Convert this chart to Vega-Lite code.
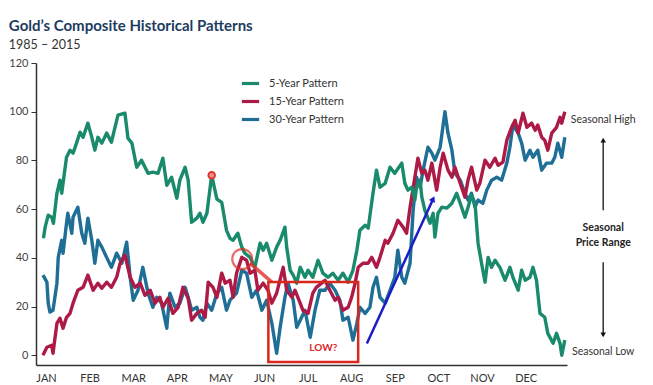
{
  "$schema": "https://vega.github.io/schema/vega-lite/v6.json",
  "width": 531,
  "height": 302,
  "autosize": "none",
  "padding": {"left": 36, "top": 63, "right": 86, "bottom": 20},
  "background": "white",
  "config": {
    "view": {"stroke": null},
    "font": "Lato",
    "legend": {"orient": "none", "legendX": 204, "legendY": 10, "padding": 0, "symbolType": "stroke", "symbolSize": 300, "symbolStrokeWidth": 3.2, "labelFontSize": 11, "labelColor": "#333", "labelFont": "Lato", "labelOffset": 8, "rowPadding": 1, "title": null}
  },
  "title": {
    "text": "Gold’s Composite Historical Patterns",
    "subtitle": "1985 – 2015",
    "anchor": "start",
    "frame": "bounds",
    "offset": 6,
    "font": "Lato",
    "fontSize": 15,
    "fontWeight": "bold",
    "color": "#1d3c5f",
    "subtitleFont": "Lato",
    "subtitleFontSize": 12.5,
    "subtitleColor": "#333",
    "subtitlePadding": 5
  },
  "encoding": {
    "x": {"field": "m", "type": "quantitative", "scale": {"domain": [-0.23, 11.95], "nice": false, "zero": false},
      "axis": {"title": null, "values": [0,1,2,3,4,5,6,7,8,9,10,11], "labelExpr": "['JAN','FEB','MAR','APR','MAY','JUN','JUL','AUG','SEP','OCT','NOV','DEC'][datum.value]", "ticks": false, "grid": false, "domainColor": "#333", "domainWidth": 1.5, "labelFontSize": 11, "labelColor": "#333", "labelPadding": 7, "labelFont": "Lato"}},
    "y": {"field": "v", "type": "quantitative", "scale": {"domain": [-4, 120], "nice": false, "zero": false},
      "axis": {"title": null, "values": [0,20,40,60,80,100,120], "grid": false, "domainColor": "#333", "domainWidth": 1.5, "tickColor": "#333", "tickSize": 5, "labelFontSize": 11, "labelColor": "#444", "labelPadding": 3, "labelFont": "Lato"}}
  },
  "layer": [
    {
      "data": {"values": [
        {"m":-0.07,"v":32.9},{"m":0.02,"v":30.0},{"m":0.05,"v":21.4},{"m":0.09,"v":17.7},{"m":0.16,"v":18.5},{"m":0.25,"v":29.6},{"m":0.28,"v":40.2},{"m":0.36,"v":47.2},{"m":0.39,"v":41.9},{"m":0.47,"v":54.2},{"m":0.50,"v":58.3},{"m":0.59,"v":50.1},{"m":0.62,"v":56.7},{"m":0.73,"v":60.8},{"m":0.82,"v":50.1},{"m":0.89,"v":46.0},{"m":0.96,"v":56.3},{"m":1.05,"v":47.2},{"m":1.12,"v":37.8},{"m":1.19,"v":47.2},{"m":1.28,"v":44.4},{"m":1.39,"v":40.2},{"m":1.50,"v":36.1},{"m":1.62,"v":41.9},{"m":1.74,"v":37.8},{"m":1.85,"v":46.4},{"m":1.93,"v":32.0},{"m":2.00,"v":22.6},{"m":2.11,"v":26.7},{"m":2.22,"v":36.1},{"m":2.34,"v":25.5},{"m":2.45,"v":19.7},{"m":2.54,"v":23.8},{"m":2.65,"v":21.4},{"m":2.77,"v":11.1},{"m":2.84,"v":25.5},{"m":2.96,"v":19.7},{"m":3.07,"v":21.4},{"m":3.19,"v":27.9},{"m":3.26,"v":23.8},{"m":3.34,"v":18.5},{"m":3.46,"v":19.7},{"m":3.53,"v":15.6},{"m":3.60,"v":14.4},{"m":3.69,"v":21.4},{"m":3.80,"v":18.5},{"m":3.92,"v":25.5},{"m":4.03,"v":27.9},{"m":4.14,"v":18.5},{"m":4.22,"v":22.6},{"m":4.37,"v":25.5},{"m":4.49,"v":34.9},{"m":4.60,"v":33.7},{"m":4.72,"v":23.8},{"m":4.83,"v":26.7},{"m":4.95,"v":18.5},{"m":5.06,"v":22.6},{"m":5.18,"v":13.1},{"m":5.29,"v":0.8},{"m":5.37,"v":11.5},{"m":5.48,"v":23.8},{"m":5.55,"v":29.6},{"m":5.67,"v":22.6},{"m":5.75,"v":11.5},{"m":5.83,"v":14.4},{"m":5.94,"v":18.5},{"m":6.06,"v":7.4},{"m":6.17,"v":18.5},{"m":6.28,"v":26.7},{"m":6.40,"v":26.7},{"m":6.51,"v":29.6},{"m":6.63,"v":26.7},{"m":6.74,"v":22.6},{"m":6.81,"v":14.4},{"m":6.93,"v":15.6},{"m":7.04,"v":6.2},{"m":7.13,"v":13.1},{"m":7.20,"v":19.7},{"m":7.32,"v":17.2},{"m":7.43,"v":19.7},{"m":7.50,"v":27.9},{"m":7.58,"v":32.0},{"m":7.66,"v":23.8},{"m":7.78,"v":21.4},{"m":7.89,"v":26.7},{"m":8.00,"v":32.0},{"m":8.07,"v":43.1},{"m":8.16,"v":32.0},{"m":8.23,"v":29.6},{"m":8.35,"v":37.8},{"m":8.42,"v":59.5},{"m":8.50,"v":73.1},{"m":8.58,"v":69.0},{"m":8.65,"v":76.0},{"m":8.76,"v":85.4},{"m":8.85,"v":83.0},{"m":8.92,"v":80.1},{"m":9.04,"v":85.4},{"m":9.15,"v":100.0},{"m":9.22,"v":91.2},{"m":9.31,"v":84.2},{"m":9.38,"v":74.7},{"m":9.50,"v":71.9},{"m":9.61,"v":66.5},{"m":9.68,"v":63.7},{"m":9.76,"v":66.5},{"m":9.84,"v":60.8},{"m":9.91,"v":63.7},{"m":10.02,"v":62.4},{"m":10.11,"v":67.8},{"m":10.22,"v":71.9},{"m":10.34,"v":73.1},{"m":10.45,"v":71.9},{"m":10.57,"v":78.9},{"m":10.64,"v":85.4},{"m":10.71,"v":94.5},{"m":10.83,"v":91.2},{"m":10.91,"v":87.1},{"m":10.99,"v":80.1},{"m":11.10,"v":84.2},{"m":11.17,"v":81.3},{"m":11.28,"v":84.2},{"m":11.37,"v":76.0},{"m":11.48,"v":78.9},{"m":11.60,"v":78.9},{"m":11.67,"v":81.3},{"m":11.74,"v":87.1},{"m":11.83,"v":81.3},{"m":11.90,"v":89.5}
      ]},
      "mark": {"type": "line", "strokeWidth": 3.4, "strokeJoin": "round"},
      "encoding": {"color": {"datum": "30-Year Pattern", "type": "nominal",
        "scale": {"domain": ["5-Year Pattern", "15-Year Pattern", "30-Year Pattern"], "range": ["#1a8a6c", "#ad1a45", "#1f6e96"]},
        "legend": {}}}
    },
    {
      "data": {"values": [
        {"m":-0.07,"v":0.0},{"m":0.02,"v":3.3},{"m":0.13,"v":4.1},{"m":0.16,"v":0.8},{"m":0.25,"v":13.1},{"m":0.32,"v":15.2},{"m":0.39,"v":11.1},{"m":0.47,"v":15.6},{"m":0.55,"v":17.2},{"m":0.62,"v":21.4},{"m":0.73,"v":26.7},{"m":0.85,"v":27.9},{"m":0.96,"v":32.9},{"m":1.08,"v":26.7},{"m":1.19,"v":29.6},{"m":1.28,"v":27.5},{"m":1.39,"v":30.0},{"m":1.50,"v":27.9},{"m":1.62,"v":32.0},{"m":1.70,"v":37.8},{"m":1.81,"v":41.1},{"m":1.93,"v":32.0},{"m":2.04,"v":27.9},{"m":2.16,"v":29.6},{"m":2.27,"v":24.6},{"m":2.39,"v":26.7},{"m":2.50,"v":21.4},{"m":2.61,"v":23.8},{"m":2.68,"v":19.7},{"m":2.80,"v":23.4},{"m":2.91,"v":17.2},{"m":3.03,"v":19.7},{"m":3.14,"v":27.9},{"m":3.26,"v":23.4},{"m":3.34,"v":14.4},{"m":3.46,"v":17.2},{"m":3.57,"v":18.5},{"m":3.65,"v":15.6},{"m":3.72,"v":30.0},{"m":3.83,"v":27.9},{"m":3.92,"v":23.8},{"m":4.03,"v":33.7},{"m":4.11,"v":29.6},{"m":4.22,"v":30.8},{"m":4.29,"v":23.8},{"m":4.37,"v":33.7},{"m":4.49,"v":40.2},{"m":4.60,"v":39.0},{"m":4.68,"v":33.7},{"m":4.79,"v":34.9},{"m":4.86,"v":26.7},{"m":4.98,"v":29.6},{"m":5.09,"v":26.7},{"m":5.18,"v":21.4},{"m":5.29,"v":25.5},{"m":5.44,"v":36.1},{"m":5.52,"v":26.7},{"m":5.64,"v":23.8},{"m":5.71,"v":26.7},{"m":5.83,"v":21.4},{"m":5.89,"v":18.5},{"m":6.01,"v":17.2},{"m":6.12,"v":25.5},{"m":6.20,"v":27.9},{"m":6.32,"v":29.6},{"m":6.40,"v":30.8},{"m":6.51,"v":26.7},{"m":6.63,"v":22.6},{"m":6.70,"v":23.8},{"m":6.81,"v":18.5},{"m":6.93,"v":19.7},{"m":7.01,"v":23.8},{"m":7.09,"v":29.6},{"m":7.16,"v":36.1},{"m":7.27,"v":37.8},{"m":7.39,"v":37.8},{"m":7.47,"v":40.2},{"m":7.58,"v":36.1},{"m":7.66,"v":40.2},{"m":7.78,"v":47.2},{"m":7.84,"v":46.0},{"m":7.96,"v":50.1},{"m":8.07,"v":55.4},{"m":8.19,"v":52.6},{"m":8.27,"v":50.1},{"m":8.35,"v":60.8},{"m":8.46,"v":73.1},{"m":8.53,"v":80.9},{"m":8.62,"v":74.7},{"m":8.69,"v":76.0},{"m":8.76,"v":71.9},{"m":8.85,"v":78.9},{"m":8.96,"v":67.8},{"m":9.04,"v":77.2},{"m":9.11,"v":83.0},{"m":9.22,"v":76.0},{"m":9.31,"v":73.1},{"m":9.38,"v":77.2},{"m":9.50,"v":70.6},{"m":9.61,"v":64.9},{"m":9.68,"v":71.9},{"m":9.76,"v":77.2},{"m":9.88,"v":67.8},{"m":9.95,"v":70.6},{"m":10.07,"v":80.1},{"m":10.18,"v":77.2},{"m":10.30,"v":80.9},{"m":10.37,"v":78.0},{"m":10.48,"v":79.3},{"m":10.57,"v":88.3},{"m":10.68,"v":93.6},{"m":10.76,"v":96.5},{"m":10.83,"v":91.2},{"m":10.94,"v":99.4},{"m":11.03,"v":93.6},{"m":11.14,"v":95.3},{"m":11.22,"v":92.4},{"m":11.28,"v":94.5},{"m":11.37,"v":89.5},{"m":11.44,"v":88.3},{"m":11.51,"v":84.2},{"m":11.60,"v":91.2},{"m":11.71,"v":93.6},{"m":11.79,"v":97.7},{"m":11.83,"v":95.3},{"m":11.90,"v":100.0}
      ]},
      "mark": {"type": "line", "strokeWidth": 3.4, "strokeJoin": "round"},
      "encoding": {"color": {"datum": "15-Year Pattern", "type": "nominal"}}
    },
    {
      "data": {"values": [
        {"m":-0.06,"v":48.0},{"m":-0.02,"v":52.6},{"m":0.05,"v":57.5},{"m":0.13,"v":56.7},{"m":0.17,"v":54.2},{"m":0.25,"v":66.5},{"m":0.32,"v":71.9},{"m":0.36,"v":66.5},{"m":0.47,"v":81.3},{"m":0.55,"v":84.2},{"m":0.62,"v":83.0},{"m":0.70,"v":87.1},{"m":0.78,"v":91.6},{"m":0.85,"v":89.5},{"m":0.96,"v":95.3},{"m":1.05,"v":89.5},{"m":1.12,"v":84.2},{"m":1.19,"v":89.5},{"m":1.28,"v":87.1},{"m":1.39,"v":91.2},{"m":1.50,"v":87.5},{"m":1.65,"v":98.6},{"m":1.81,"v":99.4},{"m":1.88,"v":89.1},{"m":1.97,"v":87.1},{"m":2.08,"v":77.2},{"m":2.19,"v":80.1},{"m":2.34,"v":74.7},{"m":2.45,"v":75.2},{"m":2.57,"v":74.7},{"m":2.68,"v":80.9},{"m":2.77,"v":69.8},{"m":2.88,"v":73.1},{"m":3.00,"v":64.5},{"m":3.07,"v":71.9},{"m":3.19,"v":77.2},{"m":3.26,"v":71.9},{"m":3.34,"v":54.6},{"m":3.46,"v":56.3},{"m":3.53,"v":58.3},{"m":3.60,"v":54.6},{"m":3.69,"v":58.3},{"m":3.80,"v":73.9},{"m":3.92,"v":64.1},{"m":4.03,"v":62.8},{"m":4.14,"v":51.3},{"m":4.22,"v":48.0},{"m":4.29,"v":47.2},{"m":4.40,"v":50.1},{"m":4.49,"v":44.4},{"m":4.56,"v":41.9},{"m":4.68,"v":40.2},{"m":4.79,"v":36.1},{"m":4.91,"v":46.0},{"m":4.98,"v":43.1},{"m":5.06,"v":46.0},{"m":5.18,"v":39.0},{"m":5.29,"v":44.4},{"m":5.37,"v":47.2},{"m":5.48,"v":52.6},{"m":5.52,"v":44.4},{"m":5.60,"v":34.9},{"m":5.67,"v":32.9},{"m":5.75,"v":29.6},{"m":5.83,"v":36.1},{"m":5.94,"v":32.0},{"m":6.01,"v":34.9},{"m":6.12,"v":32.0},{"m":6.24,"v":39.0},{"m":6.35,"v":33.7},{"m":6.47,"v":32.0},{"m":6.58,"v":33.7},{"m":6.70,"v":30.8},{"m":6.81,"v":33.7},{"m":6.93,"v":30.0},{"m":7.04,"v":34.9},{"m":7.13,"v":43.1},{"m":7.20,"v":51.3},{"m":7.32,"v":53.4},{"m":7.39,"v":52.2},{"m":7.50,"v":66.5},{"m":7.58,"v":76.0},{"m":7.66,"v":69.0},{"m":7.78,"v":70.6},{"m":7.89,"v":77.2},{"m":8.00,"v":74.7},{"m":8.16,"v":78.9},{"m":8.23,"v":70.6},{"m":8.30,"v":67.8},{"m":8.39,"v":69.0},{"m":8.46,"v":63.7},{"m":8.50,"v":69.0},{"m":8.58,"v":71.9},{"m":8.62,"v":64.9},{"m":8.69,"v":59.5},{"m":8.81,"v":54.2},{"m":8.88,"v":58.3},{"m":8.92,"v":48.5},{"m":8.99,"v":58.3},{"m":9.08,"v":60.8},{"m":9.19,"v":60.4},{"m":9.31,"v":62.4},{"m":9.42,"v":66.5},{"m":9.50,"v":62.4},{"m":9.61,"v":56.7},{"m":9.68,"v":60.8},{"m":9.76,"v":65.7},{"m":9.84,"v":62.4},{"m":9.91,"v":46.0},{"m":9.99,"v":37.8},{"m":10.07,"v":30.0},{"m":10.14,"v":40.2},{"m":10.22,"v":36.1},{"m":10.30,"v":39.0},{"m":10.41,"v":36.1},{"m":10.53,"v":30.8},{"m":10.64,"v":36.1},{"m":10.71,"v":32.0},{"m":10.83,"v":26.7},{"m":10.91,"v":34.9},{"m":10.99,"v":30.8},{"m":11.10,"v":32.0},{"m":11.17,"v":36.1},{"m":11.25,"v":30.8},{"m":11.33,"v":17.2},{"m":11.44,"v":15.6},{"m":11.51,"v":9.0},{"m":11.63,"v":4.9},{"m":11.71,"v":9.0},{"m":11.79,"v":4.9},{"m":11.83,"v":0.0},{"m":11.90,"v":6.2}
      ]},
      "mark": {"type": "line", "strokeWidth": 3.4, "strokeJoin": "round"},
      "encoding": {"color": {"datum": "5-Year Pattern", "type": "nominal"}}
    },
    {
      "data": {"values": [{"m": 4.68, "v": 37.8, "m2": 5.18, "v2": 30.0}]},
      "mark": {"type": "rule", "color": "#e0302a", "strokeWidth": 3.5, "opacity": 0.8},
      "encoding": {"x2": {"field": "m2"}, "y2": {"field": "v2"}}
    },
    {
      "data": {"values": [{"m": 4.50, "v": 39.5}]},
      "mark": {"type": "point", "shape": "circle", "size": 400, "filled": false, "color": "#e0302a", "strokeWidth": 2.2},
      "encoding": {}
    },
    {
      "data": {"values": [{"m": 3.80, "v": 73.9}]},
      "mark": {"type": "point", "shape": "circle", "size": 45, "filled": true, "fill": "#f28a8a", "stroke": "#e0302a", "strokeWidth": 1.8, "opacity": 1},
      "encoding": {}
    },
    {
      "data": {"values": [{"m": 5.10, "m2": 7.16, "v": 30.1, "v2": -2.75}]},
      "mark": {"type": "rect", "fill": "white", "fillOpacity": 0, "stroke": "#d9261f", "strokeWidth": 2.5},
      "encoding": {"x2": {"field": "m2"}, "y2": {"field": "v2"}}
    },
    {
      "data": {"values": [{"m": 6.36, "v": 2.8, "t": "LOW?"}]},
      "mark": {"type": "text", "color": "#d9261f", "fontSize": 10, "fontWeight": "bold", "font": "Lato"},
      "encoding": {"text": {"field": "t"}}
    },
    {
      "data": {"values": [{"m": 7.36, "v": 4.8, "m2": 8.88, "v2": 64.2}]},
      "mark": {"type": "rule", "color": "#1c1cc8", "strokeWidth": 2.5},
      "encoding": {"x2": {"field": "m2"}, "y2": {"field": "v2"}}
    },
    {
      "data": {"values": [{"m": 8.88, "v": 64.2, "a": 25}]},
      "mark": {"type": "point", "shape": "triangle-up", "size": 45, "filled": true, "color": "#1c1cc8", "opacity": 1},
      "encoding": {"angle": {"field": "a", "type": "quantitative", "scale": null}}
    },
    {
      "data": {"values": [{"m": 12.78, "v": 59.5, "m2": 12.78, "v2": 88.5}, {"m": 12.78, "v": 38.2, "m2": 12.78, "v2": 8.0}]},
      "mark": {"type": "rule", "color": "#111", "strokeWidth": 1.3},
      "encoding": {"x2": {"field": "m2"}, "y2": {"field": "v2"}}
    },
    {
      "data": {"values": [{"m": 12.78, "v": 88.3, "a": 0}, {"m": 12.78, "v": 8.4, "a": 180}]},
      "mark": {"type": "point", "shape": "triangle-up", "size": 30, "filled": true, "color": "#111", "opacity": 1},
      "encoding": {"angle": {"field": "a", "type": "quantitative", "scale": null}}
    },
    {
      "data": {"values": [{"m": 12.78, "v": 96.5, "t": "Seasonal High"}, {"m": 12.78, "v": 1.2, "t": "Seasonal Low"}]},
      "mark": {"type": "text", "color": "#333", "fontSize": 10.5, "font": "Lato"},
      "encoding": {"text": {"field": "t"}}
    },
    {
      "data": {"values": [{"m": 12.78, "v": 52.2, "t": "Seasonal"}, {"m": 12.78, "v": 46.0, "t": "Price Range"}]},
      "mark": {"type": "text", "color": "#222", "fontSize": 10.5, "fontWeight": "bold", "font": "Lato"},
      "encoding": {"text": {"field": "t"}}
    }
  ]
}
